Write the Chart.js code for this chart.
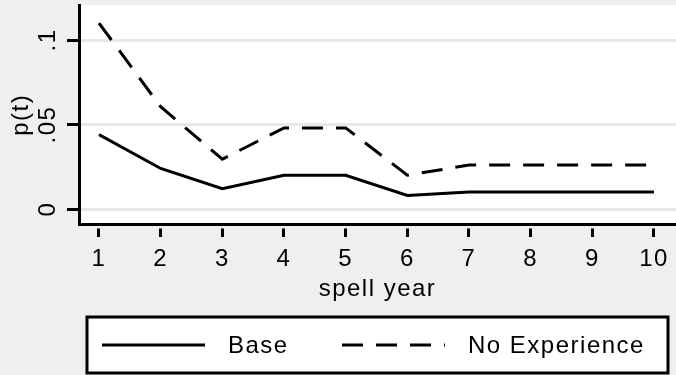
<!DOCTYPE html>
<html>
<head>
<meta charset="utf-8">
<script src="https://cdn.jsdelivr.net/npm/chart.js@4.4.1/dist/chart.umd.min.js"></script>
<style>
  html, body { margin: 0; padding: 0; background: #efefef; }
  canvas { display: block; }
</style>
</head>
<body>
<canvas id="c" width="676" height="375"></canvas>
<script>
// Hazard of exit p(t) by spell year
const spellYears = [1, 2, 3, 4, 5, 6, 7, 8, 9, 10];
const baseHazard = [0.044, 0.024, 0.012, 0.020, 0.020, 0.008, 0.010, 0.010, 0.010, 0.010];
const noExperienceHazard = [0.110, 0.0605, 0.0295, 0.048, 0.048, 0.020, 0.026, 0.026, 0.026, 0.026];
const seriesNames = ['Base', 'No Experience'];
const yTickValues = [0, 0.05, 0.1];
const yTickLabels = ['0', '.05', '.1'];
const xTitle = 'spell year';
const yTitle = 'p(t)';

const FAMILY = "'Liberation Sans', Arial, Helvetica, sans-serif";
const TEXT = { family: FAMILY, size: 24 };
const SPACING = '1.5px';

function points(values) {
  return spellYears.map((x, i) => ({ x: x, y: values[i] }));
}

// Page background, white plot region and the boxed legend at the bottom
const frame = {
  id: 'frame',
  beforeLayout(chart) { chart.ctx.letterSpacing = SPACING; },
  beforeDraw(chart) {
    const { ctx, chartArea: a, width, height } = chart;
    ctx.save();
    ctx.fillStyle = '#efefef';
    ctx.fillRect(0, 0, width, height);
    ctx.fillStyle = '#ffffff';
    ctx.fillRect(a.left, a.top, a.right - a.left, a.bottom - a.top);
    ctx.restore();
    ctx.letterSpacing = SPACING;
  },
  afterDraw(chart) {
    const ctx = chart.ctx;
    const box = { left: 87, top: 317, right: 668, bottom: 373 };
    const itemStarts = [102, 342];
    const sampleLength = 103;
    const textGap = 23;
    const cy = (box.top + box.bottom) / 2;
    ctx.save();
    ctx.fillStyle = '#ffffff';
    ctx.fillRect(box.left, box.top, box.right - box.left, box.bottom - box.top);
    ctx.lineWidth = 3;
    ctx.strokeStyle = '#000000';
    ctx.strokeRect(box.left, box.top, box.right - box.left, box.bottom - box.top);
    chart.data.datasets.forEach((ds, i) => {
      const x0 = itemStarts[i];
      ctx.setLineDash(ds.borderDash || []);
      ctx.lineWidth = ds.borderWidth;
      ctx.strokeStyle = ds.borderColor;
      ctx.beginPath();
      ctx.moveTo(x0, cy);
      ctx.lineTo(x0 + sampleLength, cy);
      ctx.stroke();
      ctx.setLineDash([]);
      ctx.letterSpacing = SPACING;
      ctx.font = TEXT.size + 'px ' + FAMILY;
      ctx.fillStyle = '#000000';
      ctx.textAlign = 'left';
      ctx.textBaseline = 'middle';
      ctx.fillText(ds.label, x0 + sampleLength + textGap, cy + 1);
    });
    ctx.restore();
  }
};

new Chart(document.getElementById('c'), {
  type: 'line',
  data: {
    datasets: [
      {
        label: seriesNames[0],
        data: points(baseHazard),
        borderColor: '#000000',
        borderWidth: 3,
        pointRadius: 0,
        tension: 0,
        fill: false
      },
      {
        label: seriesNames[1],
        data: points(noExperienceHazard),
        borderColor: '#000000',
        borderWidth: 3,
        borderDash: [21, 13],
        pointRadius: 0,
        tension: 0,
        fill: false
      }
    ]
  },
  options: {
    responsive: false,
    animation: false,
    devicePixelRatio: 1,
    layout: { padding: { top: 5, left: 0, right: 0, bottom: 0 } },
    plugins: { legend: { display: false }, tooltip: { enabled: false } },
    scales: {
      x: {
        type: 'linear',
        min: 0.6757,
        max: 10.3568,
        afterBuildTicks: s => { s.ticks = spellYears.map(v => ({ value: v })); },
        afterFit: s => {
          s.height = 150.5;
          s.paddingLeft = 0; s.paddingRight = 0;
        },
        grid: {
          drawOnChartArea: false,
          drawTicks: true,
          tickLength: 12.5,
          tickColor: '#000000',
          tickWidth: 3,
          tickBorderDash: [0, 2.5, 20, 100]
        },
        border: { display: true, color: '#000000', width: 3 },
        ticks: {
          color: '#000000',
          font: TEXT,
          padding: 8,
          minRotation: 0,
          maxRotation: 0,
          autoSkip: false,
          callback: (v, i) => String(spellYears[i])
        },
        title: {
          display: true,
          text: xTitle,
          color: '#000000',
          font: TEXT,
          padding: { top: 0, bottom: 71 }
        }
      },
      y: {
        type: 'linear',
        min: -0.00917,
        max: 0.12071,
        afterBuildTicks: s => { s.ticks = yTickValues.map(v => ({ value: v })); },
        afterFit: s => {
          s.width = 79;
          s.paddingTop = 0; s.paddingBottom = 0;
        },
        grid: {
          color: '#e8e8e8',
          lineWidth: 3,
          drawTicks: true,
          tickLength: 12,
          tickColor: '#000000',
          tickWidth: 3
        },
        border: { display: true, color: '#000000', width: 3 },
        ticks: {
          color: '#000000',
          font: TEXT,
          padding: 0,
          minRotation: 90,
          maxRotation: 90,
          crossAlign: 'center',
          autoSkip: false,
          callback: (v, i) => yTickLabels[i]
        },
        title: {
          display: true,
          text: yTitle,
          color: '#000000',
          font: TEXT,
          padding: { top: 7, bottom: 0 }
        }
      }
    }
  },
  plugins: [frame]
});
</script>
</body>
</html>
